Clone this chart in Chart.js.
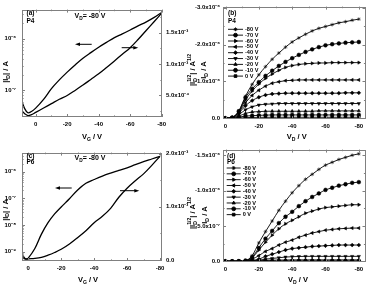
<!DOCTYPE html>
<html>
<head>
<meta charset="utf-8">
<script src="https://cdn.jsdelivr.net/npm/chart.js@4.4.1/dist/chart.umd.min.js"></script>
<style>
  html, body { margin: 0; padding: 0; background: #fff; }
  #wrap { position: relative; width: 370px; height: 286px; overflow: hidden; }
  canvas { position: absolute; }
</style>
</head>
<body>
<div id="wrap">
  <canvas id="pa" width="200" height="143" style="left:0;top:0"></canvas>
  <canvas id="pb" width="185" height="143" style="left:185px;top:0"></canvas>
  <canvas id="pc" width="200" height="143" style="left:0;top:143px"></canvas>
  <canvas id="pd" width="185" height="143" style="left:185px;top:143px"></canvas>
</div>
<script>
/* ---------- data ---------- */

// (a) P4 transfer, VD = -80 V
const p4Vg   = [9, 7, 5, 3, 0, -5, -10, -15, -20, -25, -30, -35, -40, -45, -50, -55, -60, -65, -70, -75, -80];
const p4Id   = [6.31e-8, 4.37e-8, 3.63e-8, 3.80e-8, 4.47e-8, 6.61e-8, 1.07e-7, 1.58e-7, 2.24e-7, 3.09e-7, 4.17e-7,
                5.37e-7, 6.84e-7, 8.51e-7, 1.05e-6, 1.24e-6, 1.48e-6, 1.78e-6, 2.11e-6, 2.57e-6, 3.24e-6];
const p4Sqrt = [0.255, 0.21, 0.18, 0.19, 0.23, 0.30, 0.37, 0.44, 0.50, 0.58, 0.666,
                0.755, 0.844, 0.945, 1.05, 1.155, 1.26, 1.39, 1.53, 1.67, 1.81];   // x1e-3 A^1/2

// (c) P6 transfer, VD = -80 V
const p6Vg   = [4, 2, 1, 0, -4, -8, -12, -16, -20, -25, -30, -35, -40, -45, -50, -55, -60, -65, -70, -75, -80];
const p6Id   = [8.13e-10, 5.62e-10, 5.37e-10, 5.75e-10, 1.32e-9, 4.57e-9, 1.23e-8, 2.63e-8, 4.79e-8, 9.77e-8, 2.09e-7,
                3.72e-7, 5.13e-7, 6.92e-7, 8.91e-7, 1.12e-6, 1.41e-6, 1.86e-6, 2.40e-6, 3.02e-6, 3.80e-6];
const p6Sqrt = [0.04, 0.02, 0.015, 0.02, 0.03, 0.05, 0.09, 0.14, 0.20, 0.30, 0.42,
                0.55, 0.70, 0.82, 0.97, 1.18, 1.35, 1.49, 1.62, 1.78, 1.95];       // x1e-3 A^1/2

// (b), (d) output curves, ID in µA
const vd = [0, -4, -8, -12, -16, -20, -24, -28, -32, -36, -40, -44, -48, -52, -56, -60, -64, -68, -72, -76, -80];
const vgSteps = [0, -10, -20, -30, -40, -50, -60, -70, -80];

const p4_0  = [0, -0.003, -0.01, -0.018, -0.022, -0.025, -0.026, -0.027, -0.027, -0.027, -0.027, -0.027, -0.027, -0.027, -0.027, -0.027, -0.027, -0.027, -0.027, -0.027, -0.027];
const p4_10 = [0, -0.005, -0.03, -0.06, -0.07, -0.08, -0.085, -0.09, -0.09, -0.09, -0.09, -0.09, -0.09, -0.09, -0.09, -0.09, -0.09, -0.09, -0.09, -0.09, -0.09];
const p4_20 = [0, -0.01, -0.06, -0.13, -0.17, -0.18, -0.19, -0.19, -0.19, -0.19, -0.19, -0.19, -0.19, -0.19, -0.20, -0.20, -0.20, -0.20, -0.20, -0.20, -0.20];
const p4_30 = [0, -0.01, -0.10, -0.23, -0.31, -0.36, -0.38, -0.39, -0.40, -0.40, -0.40, -0.40, -0.40, -0.40, -0.40, -0.40, -0.40, -0.40, -0.40, -0.40, -0.40];
const p4_40 = [0, -0.02, -0.14, -0.34, -0.48, -0.57, -0.63, -0.66, -0.67, -0.68, -0.68, -0.68, -0.68, -0.68, -0.68, -0.68, -0.68, -0.68, -0.69, -0.69, -0.69];
const p4_50 = [0, -0.02, -0.16, -0.42, -0.62, -0.76, -0.87, -0.95, -0.99, -1.02, -1.03, -1.04, -1.04, -1.04, -1.04, -1.04, -1.04, -1.04, -1.04, -1.04, -1.04];
const p4_60 = [0, -0.02, -0.18, -0.50, -0.74, -0.93, -1.08, -1.20, -1.30, -1.38, -1.43, -1.46, -1.48, -1.49, -1.50, -1.50, -1.51, -1.51, -1.51, -1.51, -1.51];
const p4_70 = [0, -0.02, -0.19, -0.56, -0.80, -0.98, -1.15, -1.29, -1.42, -1.53, -1.63, -1.72, -1.80, -1.87, -1.93, -1.98, -2.01, -2.03, -2.05, -2.06, -2.07];
const p4_80 = [0, -0.02, -0.20, -0.60, -0.92, -1.18, -1.40, -1.60, -1.77, -1.93, -2.07, -2.18, -2.28, -2.37, -2.44, -2.49, -2.54, -2.59, -2.62, -2.66, -2.69];

const p6_0  = [0, 0, 0, 0, 0, 0, 0, 0, 0, 0, 0, 0, 0, 0, 0, 0, 0, 0, 0, 0, 0];
const p6_10 = [0, 0, 0, 0, -0.001, -0.002, -0.003, -0.004, -0.005, -0.005, -0.005, -0.005, -0.005, -0.005, -0.005, -0.005, -0.005, -0.005, -0.005, -0.005, -0.005];
const p6_20 = [0, 0, 0, -0.001, -0.004, -0.008, -0.012, -0.015, -0.017, -0.018, -0.02, -0.02, -0.02, -0.02, -0.02, -0.02, -0.02, -0.02, -0.02, -0.02, -0.02];
const p6_30 = [0, 0, 0, -0.002, -0.008, -0.015, -0.03, -0.04, -0.05, -0.06, -0.065, -0.068, -0.07, -0.07, -0.07, -0.07, -0.07, -0.07, -0.07, -0.07, -0.07];
const p6_40 = [0, 0, 0, -0.003, -0.015, -0.03, -0.07, -0.10, -0.13, -0.16, -0.18, -0.19, -0.20, -0.21, -0.215, -0.22, -0.225, -0.23, -0.23, -0.23, -0.23];
const p6_50 = [0, 0, -0.001, -0.005, -0.03, -0.08, -0.14, -0.18, -0.23, -0.27, -0.30, -0.34, -0.37, -0.40, -0.42, -0.44, -0.45, -0.46, -0.465, -0.47, -0.47];
const p6_60 = [0, 0, -0.002, -0.01, -0.05, -0.16, -0.27, -0.37, -0.46, -0.53, -0.58, -0.63, -0.68, -0.71, -0.74, -0.76, -0.77, -0.78, -0.79, -0.80, -0.80];
const p6_70 = [0, 0, -0.002, -0.01, -0.06, -0.19, -0.32, -0.43, -0.54, -0.63, -0.70, -0.78, -0.85, -0.91, -0.96, -1.01, -1.04, -1.07, -1.09, -1.11, -1.12];
const p6_80 = [0, 0, -0.002, -0.01, -0.08, -0.26, -0.42, -0.57, -0.72, -0.85, -0.97, -1.07, -1.16, -1.23, -1.30, -1.36, -1.40, -1.44, -1.47, -1.50, -1.52];

// tick values and labels
const vTicks = [0, -20, -40, -60, -80];
const vMinor = [-10, -30, -50, -70];
const aLogTicks = [1e-7, 1e-6];
const aLogLabels = ['10⁻⁷', '10⁻⁶'];
const aSqrtTicks = [0.5, 1.0, 1.5];
const aSqrtLabels = ['5.0x10⁻⁴', '1.0x10⁻³', '1.5x10⁻³'];
const cLogTicks = [1e-9, 1e-8, 1e-7, 1e-6];
const cLogLabels = ['10⁻⁹', '10⁻⁸', '10⁻⁷', '10⁻⁶'];
const cSqrtTicks = [0, 1.0, 2.0];
const cSqrtLabels = ['0.0', '1.0x10⁻³', '2.0x10⁻³'];
const bTicks = [0, -1, -2, -3];
const bLabels = ['0.0', '-1.0x10⁻⁶', '-2.0x10⁻⁶', '-3.0x10⁻⁶'];
const dTicks = [0, -0.5, -1.0, -1.5];
const dLabels = ['0.0', '-5.0x10⁻⁷', '-1.0x10⁻⁶', '-1.5x10⁻⁶'];

/* ---------- helpers ---------- */
const FONT = '"Liberation Sans", Arial, sans-serif';
const tickFont = { family: FONT, size: 6, weight: 'bold' };

// marker shapes in Origin's default order (0 V first)
const markers = [
  { s: 'rect', r: 0 }, { s: 'circle', r: 0 }, { s: 'triangle', r: 0 }, { s: 'triangle', r: 180 },
  { s: 'rectRot', r: 0 }, { s: 'triangle', r: -90 }, { s: 'triangle', r: 90 }, { s: 'circle', r: 0 }, { s: 'star', r: 0 }
];

function logMinor(min, max) {
  const out = [];
  for (let e = Math.floor(Math.log10(min)); e <= Math.ceil(Math.log10(max)); e++) {
    for (let m = 2; m <= 9; m++) {
      const v = m * Math.pow(10, e);
      if (v > min && v < max) out.push(v);
    }
  }
  return out;
}

function fixTicks(list) {
  return scale => { scale.ticks = list.map(v => ({ value: v })); };
}

function xAxis(min, max, h) {
  return {
    type: 'linear', reverse: true, min: min, max: max,
    afterBuildTicks: fixTicks(vTicks),
    afterFit: s => { s.height = h; },
    grid: { display: false, drawTicks: false }, border: { display: false },
    ticks: { font: tickFont, color: '#000', padding: 4, maxRotation: 0, autoSkip: false, callback: v => String(v) }
  };
}

function yAxis(type, pos, min, max, w, ticks, labels, pad, reverse) {
  return {
    type: type, position: pos, min: min, max: max, reverse: !!reverse,
    afterBuildTicks: fixTicks(ticks),
    afterFit: s => { s.width = w; },
    grid: { display: false, drawTicks: false }, border: { display: false },
    ticks: { font: tickFont, color: '#000', padding: pad, autoSkip: false, callback: (v, i) => labels[i] }
  };
}

// text with subscripts / superscripts, centred on (x, y)
function richText(ctx, parts, x, y, size, rot) {
  const big = 'bold ' + size + 'px ' + FONT;
  const small = 'bold ' + (size * 0.68).toFixed(1) + 'px ' + FONT;
  ctx.save();
  ctx.translate(x, y);
  if (rot) ctx.rotate(rot);
  ctx.fillStyle = '#000';
  ctx.textBaseline = 'middle';
  ctx.textAlign = 'left';
  const widths = parts.map(p => {
    if (p.t !== undefined) { ctx.font = big; return ctx.measureText(p.t).width; }
    ctx.font = small;
    return Math.max(p.sub ? ctx.measureText(p.sub).width : 0, p.sup ? ctx.measureText(p.sup).width : 0);
  });
  let cx = -widths.reduce((a, b) => a + b, 0) / 2;
  parts.forEach((p, i) => {
    if (p.t !== undefined) {
      ctx.font = big; ctx.fillText(p.t, cx, 0);
    } else {
      ctx.font = small;
      if (p.sub) ctx.fillText(p.sub, cx, size * 0.32);
      if (p.sup) ctx.fillText(p.sup, cx, -size * 0.4);
    }
    cx += widths[i];
  });
  ctx.restore();
}

function label(ctx, text, x, y, size) {
  ctx.save();
  ctx.font = 'bold ' + size + 'px ' + FONT;
  ctx.fillStyle = '#000';
  ctx.textBaseline = 'middle';
  ctx.fillText(text, x, y);
  ctx.restore();
}

function arrow(ctx, x1, y, x2) {
  const d = Math.sign(x2 - x1);
  ctx.save();
  ctx.strokeStyle = '#000'; ctx.fillStyle = '#000'; ctx.lineWidth = 1;
  ctx.beginPath(); ctx.moveTo(x1, y); ctx.lineTo(x2 - d * 3, y); ctx.stroke();
  ctx.beginPath(); ctx.moveTo(x2, y); ctx.lineTo(x2 - d * 5, y - 1.8); ctx.lineTo(x2 - d * 5, y + 1.8);
  ctx.closePath(); ctx.fill();
  ctx.restore();
}

const ID_ABS = [{ t: '|I' }, { sub: 'D' }, { t: '| / A' }];
const ID_SQRT = [{ t: '|I' }, { sub: 'D', sup: '1/2' }, { t: '| / A' }, { sup: '1/2' }];
const ID_LIN = [{ t: 'I' }, { sub: 'D' }, { t: ' / A' }];
const VG = [{ t: 'V' }, { sub: 'G' }, { t: ' / V' }];
const VD = [{ t: 'V' }, { sub: 'D' }, { t: ' / V' }];
const VD80 = [{ t: 'V' }, { sub: 'D' }, { t: '= -80 V' }];

// box frame with inward ticks
const frame = {
  id: 'frame',
  afterDatasetsDraw(chart, args, o) {
    const { ctx, chartArea: a, scales } = chart;
    ctx.save();
    ctx.strokeStyle = '#808080';
    ctx.lineWidth = 1;
    ctx.beginPath();
    const seg = (x1, y1, x2, y2) => { ctx.moveTo(x1, y1); ctx.lineTo(x2, y2); };
    [[vTicks, 3], [vMinor, 1.6]].forEach(([vals, len]) => vals.forEach(v => {
      const px = Math.round(scales.x.getPixelForValue(v)) + 0.5;
      seg(px, a.bottom, px, a.bottom - len);
      seg(px, a.top, px, a.top + len);
    }));
    o.y.forEach(ax => {
      const sc = scales[ax.id];
      [[ax.major, 3], [ax.minor, 1.6]].forEach(([vals, len]) => vals.forEach(v => {
        const py = Math.round(sc.getPixelForValue(v)) + 0.5;
        if (ax.sides.includes('l')) seg(a.left, py, a.left + len, py);
        if (ax.sides.includes('r')) seg(a.right, py, a.right - len, py);
      }));
    });
    ctx.stroke();
    ctx.strokeRect(Math.round(a.left) + 0.5, Math.round(a.top) + 0.5,
                   Math.round(a.right - a.left) - 1, Math.round(a.bottom - a.top) - 1);
    ctx.restore();
  }
};

// Vg legend drawn from the datasets themselves
const vgLegend = {
  id: 'vgLegend',
  afterDraw(chart, args, o) {
    const ctx = chart.ctx;
    chart.data.datasets.slice().reverse().forEach((ds, i) => {
      const y = o.y + i * o.dy;
      ctx.save();
      ctx.strokeStyle = '#000'; ctx.fillStyle = '#000'; ctx.lineWidth = 0.9;
      ctx.beginPath(); ctx.moveTo(o.x, y); ctx.lineTo(o.x + o.len, y); ctx.stroke();
      Chart.helpers.drawPoint(ctx, { pointStyle: ds.pointStyle, rotation: ds.pointRotation, radius: 1.9, borderWidth: 0.6 },
                              o.x + o.len / 2, y);
      ctx.restore();
      label(ctx, ds.label, o.x + o.len + 2, y, 5.6);
    });
  }
};

function transferSets(vg, id, sq) {
  const base = { borderColor: '#000', borderWidth: 1.3, pointRadius: 0, tension: 0.35, fill: false };
  return [
    Object.assign({ data: vg.map((v, i) => ({ x: v, y: id[i] })), yAxisID: 'y' }, base),
    Object.assign({ data: vg.map((v, i) => ({ x: v, y: sq[i] })), yAxisID: 'y2' }, base)
  ];
}

function outputSets(curves) {
  return curves.map((c, k) => ({
    label: vgSteps[k] + ' V',
    data: vd.map((v, i) => ({ x: v, y: c[i] })),
    borderColor: '#000', borderWidth: 0.9,
    pointStyle: markers[k].s, pointRotation: markers[k].r, pointRadius: 1.9,
    pointBackgroundColor: '#000', pointBorderColor: '#000', pointBorderWidth: 0.5,
    cubicInterpolationMode: 'monotone', fill: false
  }));
}

const common = {
  responsive: false, animation: false, events: [],
  plugins: { legend: { display: false }, tooltip: { enabled: false } }
};

/* ---------- (a) ---------- */
const aLog = [3.35e-8, 3.69e-6];
new Chart(document.getElementById('pa'), {
  type: 'line',
  data: { datasets: transferSets(p4Vg, p4Id, p4Sqrt) },
  options: Object.assign({}, common, {
    layout: { padding: { top: 5, left: 0, right: 0, bottom: 0 } },
    scales: {
      x: xAxis(-80.2, 8.7, 26),
      y: yAxis('logarithmic', 'left', aLog[0], aLog[1], 22, aLogTicks, aLogLabels, 6),
      y2: yAxis('linear', 'right', 0.157, 1.867, 38, aSqrtTicks, aSqrtLabels, 4)
    },
    plugins: Object.assign({}, common.plugins, {
      frame: { y: [
        { id: 'y', major: aLogTicks, minor: logMinor(aLog[0], aLog[1]), sides: 'l' },
        { id: 'y2', major: aSqrtTicks, minor: [0.25, 0.75, 1.25, 1.75], sides: 'r' }
      ] }
    })
  }),
  plugins: [frame, {
    id: 'notesA',
    afterDraw(c) {
      const ctx = c.ctx;
      label(ctx, '(a)', 26.5, 13.3, 6.5);
      label(ctx, 'P4', 26.5, 21, 6.5);
      richText(ctx, VD80, 90, 16, 7);
      richText(ctx, ID_ABS, 6, 72, 7.5, -Math.PI / 2);
      richText(ctx, ID_SQRT, 193, 70, 7.5, -Math.PI / 2);
      richText(ctx, VG, 92, 137, 7.5);
      arrow(ctx, 91.7, 44.3, 75);
      arrow(ctx, 121.7, 47.7, 138.3);
    }
  }]
});

/* ---------- (b) ---------- */
new Chart(document.getElementById('pb'), {
  type: 'line',
  data: { datasets: outputSets([p4_0, p4_10, p4_20, p4_30, p4_40, p4_50, p4_60, p4_70, p4_80]) },
  options: Object.assign({}, common, {
    layout: { padding: { top: 5, left: 0, right: 4, bottom: 0 } },
    scales: {
      x: xAxis(-84, 1.5, 24),
      y: yAxis('linear', 'left', -3.03, 0.02, 38, bTicks, bLabels, 3, true)
    },
    plugins: Object.assign({}, common.plugins, {
      frame: { y: [{ id: 'y', major: bTicks, minor: [-0.5, -1.5, -2.5], sides: 'lr' }] },
      vgLegend: { x: 43, y: 29.3, dy: 5.85, len: 15 }
    })
  }),
  plugins: [frame, vgLegend, {
    id: 'notesB',
    afterDraw(c) {
      const ctx = c.ctx;
      label(ctx, '(b)', 43, 13.3, 6.5);
      label(ctx, 'P4', 43, 21, 6.5);
      richText(ctx, ID_LIN, 19, 70, 7.5, -Math.PI / 2);
      richText(ctx, VD, 111.7, 136.7, 7.5);
    }
  }]
});

/* ---------- (c) ---------- */
const cLog = [4.5e-10, 5.25e-6];
new Chart(document.getElementById('pc'), {
  type: 'line',
  data: { datasets: transferSets(p6Vg, p6Id, p6Sqrt) },
  options: Object.assign({}, common, {
    layout: { padding: { top: 5, left: 0, right: 0, bottom: 0 } },
    scales: {
      x: xAxis(-81.2, 3.8, 25),
      y: yAxis('logarithmic', 'left', cLog[0], cLog[1], 22, cLogTicks, cLogLabels, 6),
      y2: yAxis('linear', 'right', -0.02, 2.02, 38, cSqrtTicks, cSqrtLabels, 4)
    },
    plugins: Object.assign({}, common.plugins, {
      frame: { y: [
        { id: 'y', major: cLogTicks, minor: logMinor(cLog[0], cLog[1]), sides: 'l' },
        { id: 'y2', major: cSqrtTicks, minor: [0.5, 1.5], sides: 'r' }
      ] }
    })
  }),
  plugins: [frame, {
    id: 'notesC',
    afterDraw(c) {
      const ctx = c.ctx;
      label(ctx, '(c)', 26.5, 13.3, 6.5);
      label(ctx, 'P6', 26.5, 19.5, 6.5);
      richText(ctx, VD80, 90, 15, 7);
      richText(ctx, ID_ABS, 5.5, 67, 7.5, -Math.PI / 2);
      richText(ctx, ID_SQRT, 193, 70, 7.5, -Math.PI / 2);
      richText(ctx, VG, 88, 137, 7.5);
      arrow(ctx, 71.7, 45, 55);
      arrow(ctx, 120, 47.7, 139.3);
    }
  }]
});

/* ---------- (d) ---------- */
new Chart(document.getElementById('pd'), {
  type: 'line',
  data: { datasets: outputSets([p6_0, p6_10, p6_20, p6_30, p6_40, p6_50, p6_60, p6_70, p6_80]) },
  options: Object.assign({}, common, {
    layout: { padding: { top: 6, left: 0, right: 4, bottom: 0 } },
    scales: {
      x: xAxis(-84, 1.5, 24),
      y: yAxis('linear', 'left', -1.58, 0.01, 38, dTicks, dLabels, 3, true)
    },
    plugins: Object.assign({}, common.plugins, {
      frame: { y: [{ id: 'y', major: dTicks, minor: [-0.25, -0.75, -1.25], sides: 'lr' }] },
      vgLegend: { x: 41.7, y: 25, dy: 5.83, len: 14 }
    })
  }),
  plugins: [frame, vgLegend, {
    id: 'notesD',
    afterDraw(c) {
      const ctx = c.ctx;
      label(ctx, '(d)', 42, 13.3, 6.5);
      label(ctx, 'P6', 42, 18.8, 6.5);
      richText(ctx, ID_LIN, 20, 72, 7.5, -Math.PI / 2);
      richText(ctx, VD, 113, 137, 7.5);
    }
  }]
});
</script>
</body>
</html>
